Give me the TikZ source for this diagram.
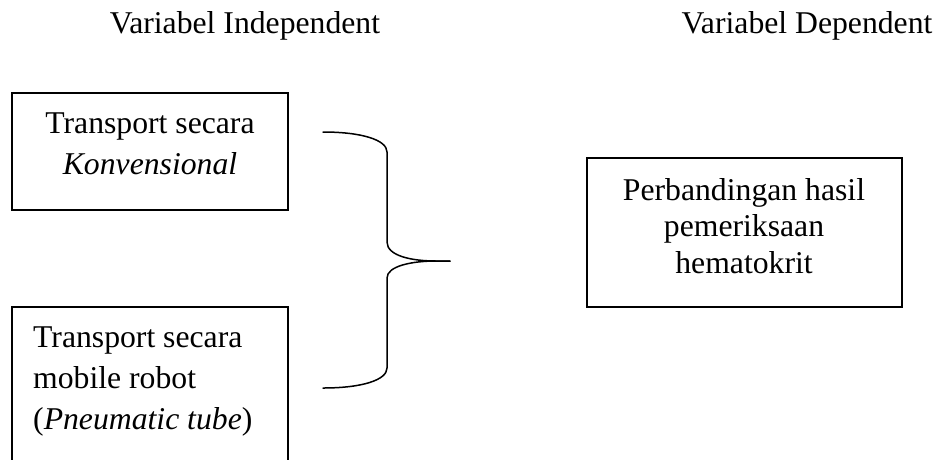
\documentclass[tikz,border=0pt]{standalone}
\usepackage{fontspec}
\setmainfont{Liberation Serif}
\begin{document}
\begin{tikzpicture}[x=1pt,y=-1pt,
  box/.style={draw,line width=1.6pt,inner sep=0pt,rectangle},
  lbl/.style={inner sep=0pt,font=\fontsize{31.7}{41}\selectfont},
  lblr/.style={inner sep=0pt,font=\fontsize{31.7}{36.5}\selectfont},
  brace/.style={line width=1.5pt,line cap=round}]
\useasboundingbox (0,0) rectangle (944,459);
\clip (0,0) rectangle (944,459);
% headings
\node[lbl,anchor=base] (hind) at (245,33) {Variabel Independent};
\node[lbl,anchor=base] (hdep) at (807,33) {Variabel Dependent};
% boxes
\node[box,minimum width=276,minimum height=117] (b1) at (150,151.5) {};
\node[box,minimum width=276,minimum height=180] (b2) at (150,397) {};
\node[box,minimum width=315,minimum height=149] (b3) at (744.5,232.5) {};
% texts
\node[lbl,anchor=base,text width=270,align=flush center] (t1) at (150,133) {Transport secara\\\textit{Konvensional}};
\node[lbl,anchor=base west,text width=250,align=flush left] (t2) at (33,347) {Transport secara\\mobile robot\\(\textit{Pneumatic tube})};
\node[lblr,anchor=base,text width=310,align=flush center] (t3) at (744,200) {Perbandingan hasil\\pemeriksaan\\hematokrit};
% brace
\coordinate (bt) at (323,132);
\coordinate (bb) at (323,388);
\coordinate (tip) at (450,261);
\draw[brace] (bt) .. controls (362,132) and (387,140) .. (387,152)
  -- (387,242) .. controls (387,256) and (412,261) .. (436,261) -- (tip);
\draw[brace] (tip) -- (436,261) .. controls (412,261) and (387,266) .. (387,278)
  -- (387,368) .. controls (387,380) and (362,388) .. (bb);
\end{tikzpicture}
\end{document}
